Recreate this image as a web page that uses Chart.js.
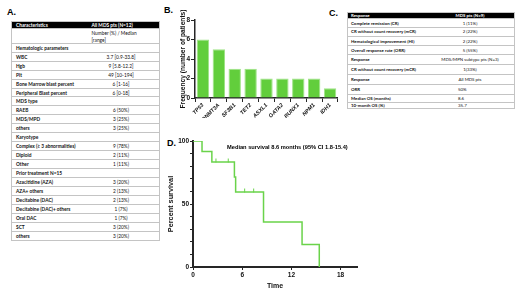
<!DOCTYPE html>
<html>
<head>
<meta charset="utf-8">
<script src="https://cdn.jsdelivr.net/npm/chart.js@4.4.1/dist/chart.umd.min.js"></script>
<style>
  body { margin: 0; width: 520px; height: 292px; position: relative; background: #fff; overflow: hidden; }
  .panel { position: absolute; font: bold 9px 'Liberation Sans', Arial, sans-serif; color: #000; }
  .tbl { position: absolute; border: 0.6px solid #c4c4c4; box-sizing: border-box; font-family: Lato, 'Open Sans', sans-serif; color: #111; }
  .row { display: flex; align-items: center; border-top: 0.6px solid #c4c4c4; box-sizing: border-box; }
  .row.head { background: #000; color: #fff; border-top: none; font-weight: bold; }
  .c1 { overflow: hidden; white-space: nowrap; font-weight: bold; }
  .c2 { overflow: hidden; white-space: nowrap; }
  canvas { position: absolute; }
  #km-note { position: absolute; left: 227px; top: 144px; font: bold 5.7px 'Liberation Sans', Arial, sans-serif; white-space: nowrap; }
</style>
</head>
<body>
<div class="panel" style="left:7px;top:7px">A.</div>
<div class="panel" style="left:164px;top:5px">B.</div>
<div class="panel" style="left:329px;top:8px">C.</div>
<div class="panel" style="left:167px;top:138px">D.</div>

<div id="tableA" class="tbl" style="left:11px;top:20.7px;width:149px;font-size:4.8px"></div>
<div id="tableC" class="tbl" style="left:347px;top:11.7px;width:168px;font-size:4.4px"></div>

<canvas id="genes" width="159" height="118" style="left:179px;top:0px"></canvas>
<canvas id="survival" width="195" height="160" style="left:167px;top:130px"></canvas>
<div id="km-note">Median survival 8.6 months (95% CI 1.8-15.4)</div>

<script>
// panel A table
const tableAHeader = ['Characteristics', 'All MDS pts (N=12)']
const tableASubHeader = 'Number (%) / Median<br>[range]'
const tableARows = [
  ['Hematologic parameters', ''],
  ['WBC', '3.7 [0.9-33.8]'],
  ['Hgb', '9 [5.8-12.2]'],
  ['Plt', '49 [10-194]'],
  ['Bone Marrow blast percent', '6 [1-16]'],
  ['Peripheral Blast percent', '6 [0-18]'],
  ['MDS type', ''],
  ['RAEB', '6 (50%)'],
  ['MDS/MPD', '3 (25%)'],
  ['others', '3 (25%)'],
  ['Karyotype', ''],
  ['Complex (\u2265 3 abnormalities)', '9 (78%)'],
  ['Diploid', '2 (11%)'],
  ['Other', '1 (11%)'],
  ['Prior treatment N=15', ''],
  ['Azacitidine (AZA)', '3 (20%)'],
  ['AZA+ others', '2 (13%)'],
  ['Decitabine (DAC)', '2 (13%)'],
  ['Decitabine (DAC)+ others', '1 (7%)'],
  ['Oral DAC', '1 (7%)'],
  ['SCT', '3 (20%)'],
  ['others', '3 (20%)'],
]

// panel C table
const tableCHeader = ['Response', 'MDS pts (N=9)']
const tableCRows = [
  ['Complete remission (CR)', '1 (11%)'],
  ['CR without count recovery (mCR)', '2 (22%)'],
  ['Hematological improvement (HI)', '2 (22%)'],
  ['Overall response rate (ORR)', '5 (55%)'],
  ['Response', 'MDS/MPN subtype pts (N=3)'],
  ['CR without count recovery (mCR)', '1(33%)'],
  ['Response', 'All MDS pts'],
  ['ORR', '50%'],
  ['Median OS (months)', '8.6'],
  ['10-month OS (%)', '35.7'],
]

// panel B: mutation frequencies
const genes = ['TP53', 'DNMT3A', 'SF3B1', 'TET2', 'ASXL1', 'GATA2', 'RUNX1', 'NPM1', 'IDH1']
const geneCounts = [6, 5, 3, 3, 2, 2, 2, 2, 1]
const freqTicks = [0, 2, 4, 6, 8]

// panel D: Kaplan-Meier curve
const kmMonths = [0, 1.1, 2.3, 5.05, 5.2, 8.6, 13.3, 15.4]
const kmSurvival = [100, 91.7, 83.3, 71.4, 59.5, 35.7, 17.9, 0]
const censorMonths = [2.8, 4.3, 6.3, 7.4]
const censorSurvival = [83.3, 83.3, 59.5, 59.5]
const timeTicks = [0, 6, 12, 18]
const survivalTicks = [0, 25, 50, 75, 100]

// layout of the tables (px)
const rowHeightA = 8.97
const rowHeightsC = [8.7, 9, 9.3, 9, 10, 10, 10, 10, 7.4, 6.6]

function addRow(el, cells, height, cls, colW, align) {
  const r = document.createElement('div')
  r.className = 'row' + (cls ? ' ' + cls : '')
  r.style.height = height + 'px'
  const a = document.createElement('div')
  a.className = 'c1'
  a.style.width = colW[0] + 'px'
  a.style.paddingLeft = colW[2] + 'px'
  a.style.boxSizing = 'border-box'
  a.innerHTML = cells[0]
  const b = document.createElement('div')
  b.className = 'c2'
  b.style.width = colW[1] + 'px'
  b.style.textAlign = align || 'center'
  b.innerHTML = cells[1]
  r.appendChild(a)
  r.appendChild(b)
  el.appendChild(r)
  return b
}

const tA = document.getElementById('tableA')
const colA = [79, 68, 4]
let hb = addRow(tA, tableAHeader, 6.6, 'head', colA, 'left')
hb.style.paddingLeft = '1px'
let sub = addRow(tA, ['', tableASubHeader], 14.4, '', colA, 'left')
sub.style.whiteSpace = 'normal'
sub.style.lineHeight = '1.35'
sub.style.paddingLeft = '1px'
sub.style.alignSelf = 'flex-start'
sub.style.paddingTop = '1px'
tableARows.forEach(r => {
  const c = addRow(tA, r, rowHeightA, '', colA, 'center')
  c.style.paddingRight = '8px'
  c.style.boxSizing = 'border-box'
})

const tC = document.getElementById('tableC')
const colC = [78, 88, 3]
addRow(tC, tableCHeader, 5.6, 'head', colC, 'center')
tableCRows.forEach((r, i) => {
  const c = addRow(tC, r, rowHeightsC[i], '', colC, i >= 7 ? 'left' : 'center')
  if (i >= 7) c.style.paddingLeft = '32px'
  c.style.boxSizing = 'border-box'
})

const AXIS = '#262626'
const tickFont = { family: "'Liberation Sans', Arial", size: 6.5, weight: 'bold' }

// B: bar chart
new Chart(document.getElementById('genes'), {
  type: 'bar',
  data: {
    labels: genes,
    datasets: [
      {
        data: geneCounts,
        backgroundColor: '#62ce3c',
        borderColor: '#9fe487',
        borderWidth: 1,
        barPercentage: 0.78,
        categoryPercentage: 1,
      },
    ],
  },
  options: {
    responsive: false,
    animation: false,
    devicePixelRatio: 1,
    layout: { padding: { top: 20, left: 0, right: 0, bottom: 0 } },
    plugins: { legend: { display: false }, tooltip: { enabled: false } },
    scales: {
      x: {
        grid: { drawOnChartArea: false, tickLength: 4, color: AXIS, lineWidth: 1 },
        border: { color: AXIS, width: 1.5 },
        ticks: {
          minRotation: 45,
          maxRotation: 45,
          padding: 0,
          color: '#111',
          font: { family: "'Liberation Sans', Arial", size: 5.5, style: 'italic', weight: 'bold' },
        },
        afterFit: s => { s.height = 20 },
      },
      y: {
        min: 0,
        max: 8,
        afterBuildTicks: s => { s.ticks = freqTicks.map(v => ({ value: v })) },
        grid: { drawOnChartArea: false, tickLength: 4, color: AXIS, lineWidth: 1 },
        border: { color: AXIS, width: 1.5 },
        ticks: { padding: 1, color: '#111', font: tickFont },
        title: {
          display: true,
          text: 'Frequency (number of patients)',
          padding: 0,
          color: '#111',
          font: { family: "'Liberation Sans', Arial", size: 6.6, weight: 'bold' },
        },
        afterFit: s => { s.width = 16 },
      },
    },
  },
})

// D: survival curve
new Chart(document.getElementById('survival'), {
  type: 'line',
  data: {
    datasets: [
      {
        data: kmMonths.map((t, i) => ({ x: t, y: kmSurvival[i] })),
        stepped: 'before',
        borderColor: '#6ad34a',
        borderWidth: 1.5,
        pointRadius: 0,
        fill: false,
      },
      {
        data: censorMonths.map((t, i) => ({ x: t, y: censorSurvival[i] + 1.2 })),
        showLine: false,
        pointStyle: 'line',
        rotation: 90,
        pointRadius: 2,
        borderColor: '#6ad34a',
        borderWidth: 1,
      },
    ],
  },
  options: {
    responsive: false,
    animation: false,
    devicePixelRatio: 1,
    layout: { padding: { top: 11, left: 0, right: 0, bottom: 0 } },
    plugins: { legend: { display: false }, tooltip: { enabled: false } },
    scales: {
      x: {
        type: 'linear',
        min: 0,
        max: 20,
        afterBuildTicks: s => { s.ticks = timeTicks.map(v => ({ value: v })) },
        grid: { drawOnChartArea: false, tickLength: 3, color: AXIS, lineWidth: 1 },
        border: { color: AXIS, width: 2 },
        ticks: { padding: 1, color: '#111', font: tickFont },
        title: {
          display: true,
          text: 'Time',
          padding: 0,
          color: '#111',
          font: { family: "'Liberation Sans', Arial", size: 7, weight: 'bold' },
        },
        afterFit: s => { s.height = 23 },
      },
      y: {
        min: 0,
        max: 100,
        afterBuildTicks: s => {
          const t = []
          for (let v = 0; v <= 100; v += 5) t.push({ value: v })
          s.ticks = t
        },
        grid: { drawOnChartArea: false, tickLength: 3, color: AXIS, lineWidth: 1 },
        border: { color: AXIS, width: 2 },
        ticks: {
          padding: 1,
          color: '#111',
          font: tickFont,
          callback: v => (survivalTicks.includes(v) ? v : ''),
        },
        title: {
          display: true,
          text: 'Percent survival',
          padding: 0,
          color: '#111',
          font: { family: "'Liberation Sans', Arial", size: 7.3, weight: 'bold' },
        },
        afterFit: s => { s.width = 26 },
      },
    },
  },
})
</script>
</body>
</html>
